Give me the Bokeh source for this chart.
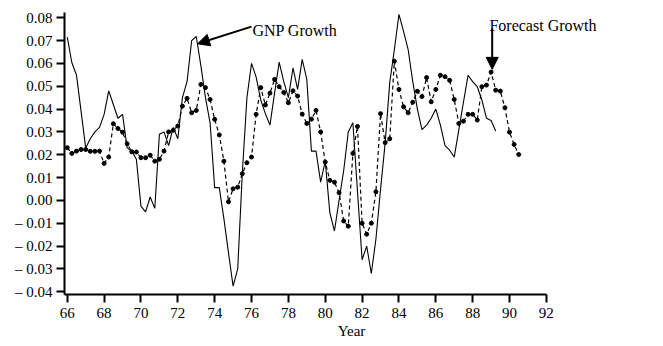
from bokeh.plotting import figure
from bokeh.models import (Range1d, FixedTicker, CustomJSTickFormatter, Label,
                          Arrow, NormalHead, ColumnDataSource)
from bokeh.embed import file_html
from bokeh.resources import INLINE

# ---- data (quarterly) ----
gnp_growth = [
    0.0715, 0.0603, 0.0549, 0.039, 0.023, 0.027, 0.030, 0.032,
    0.0377, 0.048, 0.042, 0.036, 0.0377, 0.023, 0.0216, 0.018,
    -0.0025, -0.005, 0.0015, -0.0035, 0.029, 0.030, 0.024, 0.032,
    0.027, 0.045, 0.052, 0.070, 0.0718, 0.059, 0.045, 0.034,
    0.0056, 0.0056, -0.008, -0.023, -0.0375, -0.030, 0.012, 0.045,
    0.060, 0.054, 0.044, 0.038, 0.033, 0.047, 0.0606, 0.052,
    0.045, 0.058, 0.0486, 0.0618, 0.053, 0.0216, 0.0216, 0.008,
    0.0172, -0.0054, -0.0134, 0.000, 0.013, 0.030, 0.034, 0.004,
    -0.026, -0.020, -0.032, -0.017, 0.0048, 0.025, 0.0516, 0.066,
    0.0815, 0.074, 0.066, 0.052, 0.040, 0.031, 0.033, 0.036,
    0.040, 0.033, 0.024, 0.022, 0.019, 0.031, 0.043, 0.0548,
    0.052, 0.0498, 0.044, 0.036, 0.035, 0.0304,
]
forecast_growth = [
    0.0231, 0.0206, 0.0216, 0.0223, 0.0223, 0.0215, 0.0215, 0.0216,
    0.0162, 0.019, 0.0336, 0.0315, 0.0299, 0.0248, 0.0213, 0.0212,
    0.0187, 0.0187, 0.0198, 0.0172, 0.018, 0.0216, 0.030, 0.0307,
    0.0326, 0.0413, 0.0447, 0.0384, 0.0394, 0.0508, 0.0494, 0.0442,
    0.0355, 0.0287, 0.0172, -0.0006, 0.0051, 0.0058, 0.0117, 0.0165,
    0.019, 0.0377, 0.0494, 0.0418, 0.047, 0.053, 0.0498, 0.0473,
    0.0428, 0.048, 0.0457, 0.0378, 0.0337, 0.0356, 0.0394, 0.030,
    0.0168, 0.0088, 0.008, 0.0034, -0.009, -0.0113, 0.0206, 0.0324,
    -0.010, -0.0148, -0.010, 0.0038, 0.038, 0.0253, 0.027, 0.061,
    0.0486, 0.041, 0.0384, 0.043, 0.0478, 0.0455, 0.0538, 0.0432,
    0.0486, 0.0548, 0.0542, 0.0526, 0.0442, 0.0337, 0.0347, 0.0377,
    0.0377, 0.0352, 0.0498, 0.0505, 0.0562, 0.0483, 0.0479, 0.0406,
    0.0299, 0.0245, 0.0201,
]
start_year = 66
gnp_year = [start_year + q / 4 for q in range(len(gnp_growth))]
forecast_year = [start_year + q / 4 for q in range(len(forecast_growth))]

x_ticks = [66, 68, 70, 72, 74, 76, 78, 80, 82, 84, 86, 88, 90, 92]
y_ticks = [-0.04, -0.03, -0.02, -0.01, 0.00, 0.01, 0.02, 0.03, 0.04,
           0.05, 0.06, 0.07, 0.08]

FONT = "Liberation Serif"

p = figure(frame_width=574, frame_height=282,
           x_range=Range1d(65.85, 97.0), y_range=Range1d(-0.0412, 0.0823),
           output_backend="svg", toolbar_location=None,
           min_border_left=64, min_border_top=12, min_border_right=5,
           min_border_bottom=44)
p.outline_line_color = None
p.xgrid.visible = False
p.ygrid.visible = False
p.background_fill_color = "white"
p.border_fill_color = "white"

gnp_src = ColumnDataSource(dict(x=gnp_year, y=gnp_growth))
fc_src = ColumnDataSource(dict(x=forecast_year, y=forecast_growth))

p.line("x", "y", source=gnp_src, line_color="black", line_width=1.1)
p.line("x", "y", source=fc_src, line_color="black", line_width=1.2,
       line_dash="4 3")
p.scatter("x", "y", source=fc_src, size=4, fill_color="black",
          line_color="black", marker="circle")

# axes
xa = p.xaxis[0]
xa.ticker = FixedTicker(ticks=x_ticks, minor_ticks=[])
xa.bounds = (65.85, 92)
xa.axis_label = "Year"
ya = p.yaxis[0]
ya.ticker = FixedTicker(ticks=y_ticks, minor_ticks=[])
ya.formatter = CustomJSTickFormatter(code="""
    const v = Math.abs(tick) < 1e-9 ? 0 : tick;
    return v < 0 ? "\u2013 " + Math.abs(v).toFixed(2) : v.toFixed(2);
""")
for ax in (xa, ya):
    ax.axis_line_width = 2
    ax.axis_line_color = "black"
    ax.major_tick_line_width = 2
    ax.major_tick_line_color = "black"
    ax.major_tick_out = 8
    ax.major_tick_in = 0
    ax.minor_tick_line_color = None
    ax.major_label_text_font = FONT
    ax.major_label_text_font_size = "15px"
    ax.major_label_text_color = "black"
    ax.axis_label_text_font = FONT
    ax.axis_label_text_font_size = "15px"
    ax.axis_label_text_font_style = "normal"
    ax.axis_label_text_color = "black"
xa.major_label_standoff = 5
xa.axis_label_standoff = 2
ya.major_label_standoff = 4

# annotations
p.add_layout(Arrow(end=NormalHead(size=12, fill_color="black",
                                  line_color="black"),
                   x_start=76.0, y_start=0.0761, x_end=73.07, y_end=0.0686,
                   line_width=2, line_color="black"))
p.add_layout(Label(x=76.05, y=0.0745, text="GNP Growth", text_font=FONT,
                   text_font_size="16px", text_color="black",
                   text_baseline="alphabetic"))
p.add_layout(Arrow(end=NormalHead(size=12, fill_color="black",
                                  line_color="black"),
                   x_start=89.06, y_start=0.0753, x_end=89.06, y_end=0.0574,
                   line_width=2, line_color="black"))
p.add_layout(Label(x=88.91, y=0.0767, text="Forecast Growth", text_font=FONT,
                   text_font_size="16px", text_color="black",
                   text_baseline="alphabetic"))

open("out.html", "w").write(file_html(p, INLINE))
